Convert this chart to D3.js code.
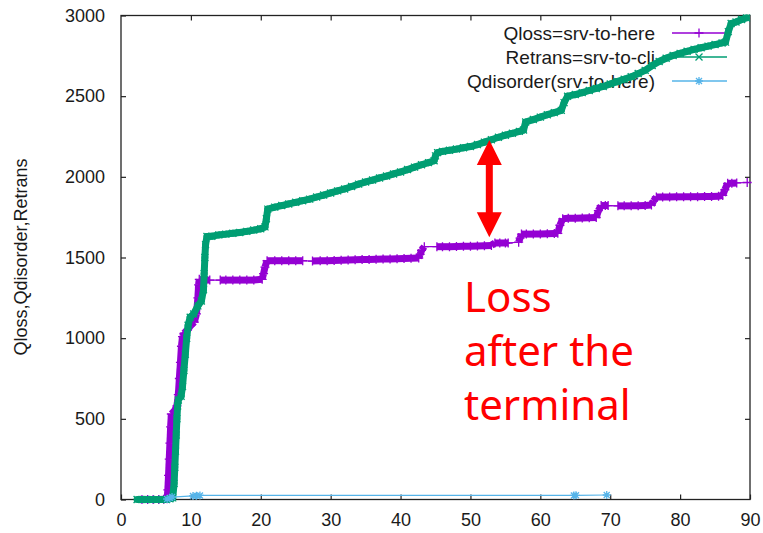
<!DOCTYPE html>
<html>
<head>
<meta charset="utf-8">
<script src="https://cdn.jsdelivr.net/npm/d3@7"></script>
<style>
  body { margin: 0; background: #fff; }
  text { font-family: "Liberation Sans", Arial, sans-serif; fill: #1a1a1a; }
</style>
</head>
<body>
<svg id="chart" width="763" height="533"></svg>
<script>
// time (s) / count pairs
const qloss = [
  [3.0, 0], [3.8, 0], [4.6, 0], [5.4, 0], [6.1, 2], [6.6, 5],
  [6.7, 60], [6.8, 150], [6.9, 250], [7.0, 350], [7.1, 450], [7.2, 530],
  [7.6, 545], [8.0, 580], [8.2, 650], [8.35, 750], [8.5, 850], [8.65, 950], [8.8, 1010], [9.0, 1030],
  [9.5, 1050], [10.0, 1080], [10.5, 1100], [10.8, 1150], [11.0, 1250], [11.1, 1330], [11.2, 1365],
  [11.6, 1360], [12.1, 1360], [12.7, 1360],
  [14.2, 1360], [15, 1360], [16, 1360], [17, 1360], [18, 1360], [19, 1360], [20.2, 1365],
  [20.4, 1400], [20.6, 1440], [20.9, 1480],
  [22, 1480], [23, 1480], [24, 1480], [25, 1480], [26.0, 1480],
  [27.4, 1478], [28.5, 1480], [29.5, 1480], [30.5, 1482], [31.5, 1483], [32.5, 1484], [33.5, 1486],
  [34.5, 1487], [35.5, 1488], [36.5, 1489], [37.5, 1490], [38.5, 1491], [39.5, 1492], [40.5, 1494],
  [41.5, 1495], [42.6, 1497],
  [42.8, 1520], [43.0, 1545], [43.4, 1567],
  [45.2, 1567], [46, 1567], [47, 1567], [48, 1568], [49, 1569], [50, 1570], [51, 1571], [52, 1573], [53, 1575],
  [53.5, 1590], [54.2, 1590], [55.0, 1590], [55.4, 1590],
  [56.9, 1595], [57.1, 1620], [57.3, 1645],
  [58, 1645], [59, 1645], [60, 1646], [61, 1647], [62, 1648], [62.5, 1650],
  [62.8, 1700], [63.2, 1740],
  [64, 1743], [65, 1744], [66, 1745], [67, 1746], [68, 1748],
  [68.3, 1790], [68.7, 1822], [69.3, 1822], [69.7, 1822],
  [71.1, 1820], [72, 1820], [73, 1820], [74, 1821], [75, 1822], [75.9, 1825],
  [76.2, 1850], [76.6, 1875],
  [77.5, 1875], [78.5, 1875], [79.5, 1876], [80.5, 1876], [81.5, 1877], [82.5, 1877], [83.5, 1878],
  [84.5, 1878], [85.5, 1880], [86.1, 1885],
  [86.4, 1920], [86.8, 1960], [87.4, 1960], [88.1, 1962],
  [89.6, 1965]
];

const retrans = [
  [2.3, 0], [3.0, 0], [3.7, 0], [4.4, 0], [5.1, 0], [5.8, 0], [6.5, 0], [7.0, 5], [7.4, 10],
  [7.6, 100], [7.7, 200], [7.8, 300], [7.9, 400], [8.0, 500], [8.1, 580], [8.2, 617],
  [8.6, 640], [8.8, 700], [9.0, 800], [9.2, 900], [9.4, 1000], [9.6, 1080], [9.9, 1130],
  [10.4, 1150], [11.0, 1200], [11.5, 1230], [11.8, 1300], [11.9, 1400], [12.0, 1500], [12.1, 1580], [12.3, 1630],
  [13, 1632], [14, 1640], [15, 1645], [16, 1650], [17, 1655], [18, 1662], [19, 1670], [20, 1678], [20.6, 1690],
  [20.8, 1740], [21.0, 1800],
  [22, 1812], [23, 1822], [24, 1832], [25, 1842], [26, 1852], [27, 1862], [28, 1875], [29, 1887], [30, 1900],
  [31, 1913], [32, 1925], [33, 1940], [34, 1955], [35, 1968], [36, 1980], [37, 1993], [38, 2005], [39, 2018],
  [40, 2030], [41, 2045], [42, 2060], [43, 2075], [44, 2088], [44.8, 2100],
  [45.0, 2130], [45.3, 2150], [46, 2158], [47, 2165], [48, 2172], [49, 2180], [50, 2188], [51, 2200],
  [52, 2215], [53, 2230], [54, 2245], [55, 2258], [56, 2270], [57, 2282], [57.6, 2290],
  [57.9, 2340], [59, 2355], [60, 2370], [61, 2385], [62, 2398], [63, 2412],
  [63.4, 2460], [63.9, 2500],
  [65, 2510], [66, 2522], [67, 2535], [68, 2548], [69, 2560], [70, 2575], [71, 2590], [72, 2605], [73, 2620],
  [74, 2640], [75, 2660], [76, 2690], [77, 2715], [78, 2735], [79, 2752], [80, 2765], [81, 2778], [82, 2790],
  [83, 2800], [84, 2810], [85, 2820], [86, 2830], [86.5, 2835],
  [86.9, 2900], [87.3, 2950], [88, 2960], [88.8, 2975], [89.5, 2985]
];

const qdisorder = [
  [6.6, 3], [7.0, 10], [7.3, 15], [10.3, 22], [10.8, 24], [11.3, 25],
  [64.8, 25], [65.1, 26], [69.5, 28]
];

const xTicks = [0, 10, 20, 30, 40, 50, 60, 70, 80, 90];
const yTicks = [0, 500, 1000, 1500, 2000, 2500, 3000];

const seriesNames = ['Qloss=srv-to-here', 'Retrans=srv-to-cli', 'Qdisorder(srv-to-here)'];
const seriesColors = ['#9400d3', '#009e73', '#56b4e9'];

const plotLeft = 121, plotRight = 750, plotTop = 15.5, plotBottom = 499.5;

const x = d3.scaleLinear().domain([0, 90]).range([plotLeft, plotRight]);
const y = d3.scaleLinear().domain([0, 3000]).range([plotBottom, plotTop]);

const svg = d3.select('#chart');

// marker shapes
const plus = s => `M${-s},0H${s}M0,${-s}V${s}`;
const cross = s => `M${-s},${-s}L${s},${s}M${-s},${s}L${s},${-s}`;
const star = s => plus(s) + cross(s * 0.75);
const markers = [plus(4.5), cross(3.5), star(4)];

// axes (ticks drawn inward, gnuplot style)
const fmt = d3.format('d');
svg.append('g')
  .attr('transform', `translate(0, ${ plotBottom })`)
  .call(d3.axisBottom(x).tickValues(xTicks).tickFormat(fmt).tickSize(-5).tickPadding(14))
  .call(g => g.select('.domain').remove());
svg.append('g')
  .attr('transform', `translate(0, ${ plotTop })`)
  .call(d3.axisTop(x).tickValues(xTicks.slice(1, -1)).tickFormat('').tickSize(-5))
  .call(g => g.select('.domain').remove());
svg.append('g')
  .attr('transform', `translate(${ plotLeft }, 0)`)
  .call(d3.axisLeft(y).tickValues(yTicks).tickFormat(fmt).tickSize(-5).tickPadding(16))
  .call(g => g.select('.domain').remove());
svg.append('g')
  .attr('transform', `translate(${ plotRight }, 0)`)
  .call(d3.axisRight(y).tickValues(yTicks.slice(1, -1)).tickFormat('').tickSize(-5))
  .call(g => g.select('.domain').remove());

svg.selectAll('.tick line').attr('stroke', '#222').attr('stroke-width', 1.2);
svg.selectAll('.tick text').style('font-size', '18px').attr('fill', '#1a1a1a');

svg.append('rect')
  .attr('x', plotLeft).attr('y', plotTop)
  .attr('width', plotRight - plotLeft).attr('height', plotBottom - plotTop)
  .attr('fill', 'none').attr('stroke', '#222').attr('stroke-width', 1.3);

svg.append('text')
  .attr('transform', `translate(27, 257) rotate(-90)`)
  .attr('text-anchor', 'middle')
  .style('font-size', '18px')
  .text('Qloss,Qdisorder,Retrans');

// legend (drawn under the data, as in the source)
const legend = svg.append('g');
seriesNames.forEach((name, i) => {
  const ly = 33 + i * 24;
  legend.append('text')
    .attr('x', 655).attr('y', ly).attr('dy', '0.35em')
    .attr('text-anchor', 'end')
    .style('font-size', '19px')
    .text(name);
  legend.append('line')
    .attr('x1', 672).attr('x2', 727).attr('y1', ly).attr('y2', ly)
    .attr('stroke', seriesColors[i]).attr('stroke-width', 1.3);
  legend.append('path')
    .attr('d', markers[i])
    .attr('transform', `translate(699, ${ ly })`)
    .attr('fill', 'none').attr('stroke', seriesColors[i]).attr('stroke-width', 1.3);
});

// data
const line = d3.line().x(d => x(d[0])).y(d => y(d[1]));
const bandWidth = [7, 7, 1.2];

[qloss, retrans, qdisorder].forEach((data, i) => {
  const g = svg.append('g');
  const color = seriesColors[i];
  g.append('path')
    .attr('d', line(data))
    .attr('fill', 'none').attr('stroke', color).attr('stroke-width', 1.2);
  // closely spaced samples merge into a solid band
  const pairs = d3.pairs(data).filter(([a, b]) => b[0] - a[0] <= 1.2);
  g.selectAll('line.band')
    .data(pairs)
    .enter()
    .append('line')
    .attr('class', 'band')
    .attr('x1', d => x(d[0][0])).attr('y1', d => y(d[0][1]))
    .attr('x2', d => x(d[1][0])).attr('y2', d => y(d[1][1]))
    .attr('stroke', color).attr('stroke-width', bandWidth[i])
    .attr('stroke-linecap', i === 0 ? 'butt' : 'round');
  g.selectAll('path.mk')
    .data(data)
    .enter()
    .append('path')
    .attr('class', 'mk')
    .attr('d', markers[i])
    .attr('transform', d => `translate(${ x(d[0]) }, ${ y(d[1]) })`)
    .attr('fill', 'none').attr('stroke', color).attr('stroke-width', 1.3);
});

// annotation overlay
const arrowT = 52.7, arrowFrom = 2228, arrowTo = 1625;
const ax = x(arrowT), ay1 = y(arrowFrom), ay2 = y(arrowTo);
const hw = 12.5, hl = 25, sw = 3.5;
svg.append('path')
  .attr('d', `M${ax},${ay1}L${ax + hw},${ay1 + hl}L${ax + sw},${ay1 + hl}L${ax + sw},${ay2 - hl}` +
    `L${ax + hw},${ay2 - hl}L${ax},${ay2}L${ax - hw},${ay2 - hl}L${ax - sw},${ay2 - hl}` +
    `L${ax - sw},${ay1 + hl}L${ax - hw},${ay1 + hl}Z`)
  .attr('fill', '#ff0000');

const note = ['Loss', 'after the', 'terminal'];
svg.append('g').selectAll('text')
  .data(note)
  .enter()
  .append('text')
  .attr('x', 464)
  .attr('y', (d, i) => 312 + i * 54)
  .style('font-family', '"Noto Sans", sans-serif')
  .style('font-size', '42px')
  .style('fill', '#ff0000')
  .text(d => d);
</script>
</body>
</html>
